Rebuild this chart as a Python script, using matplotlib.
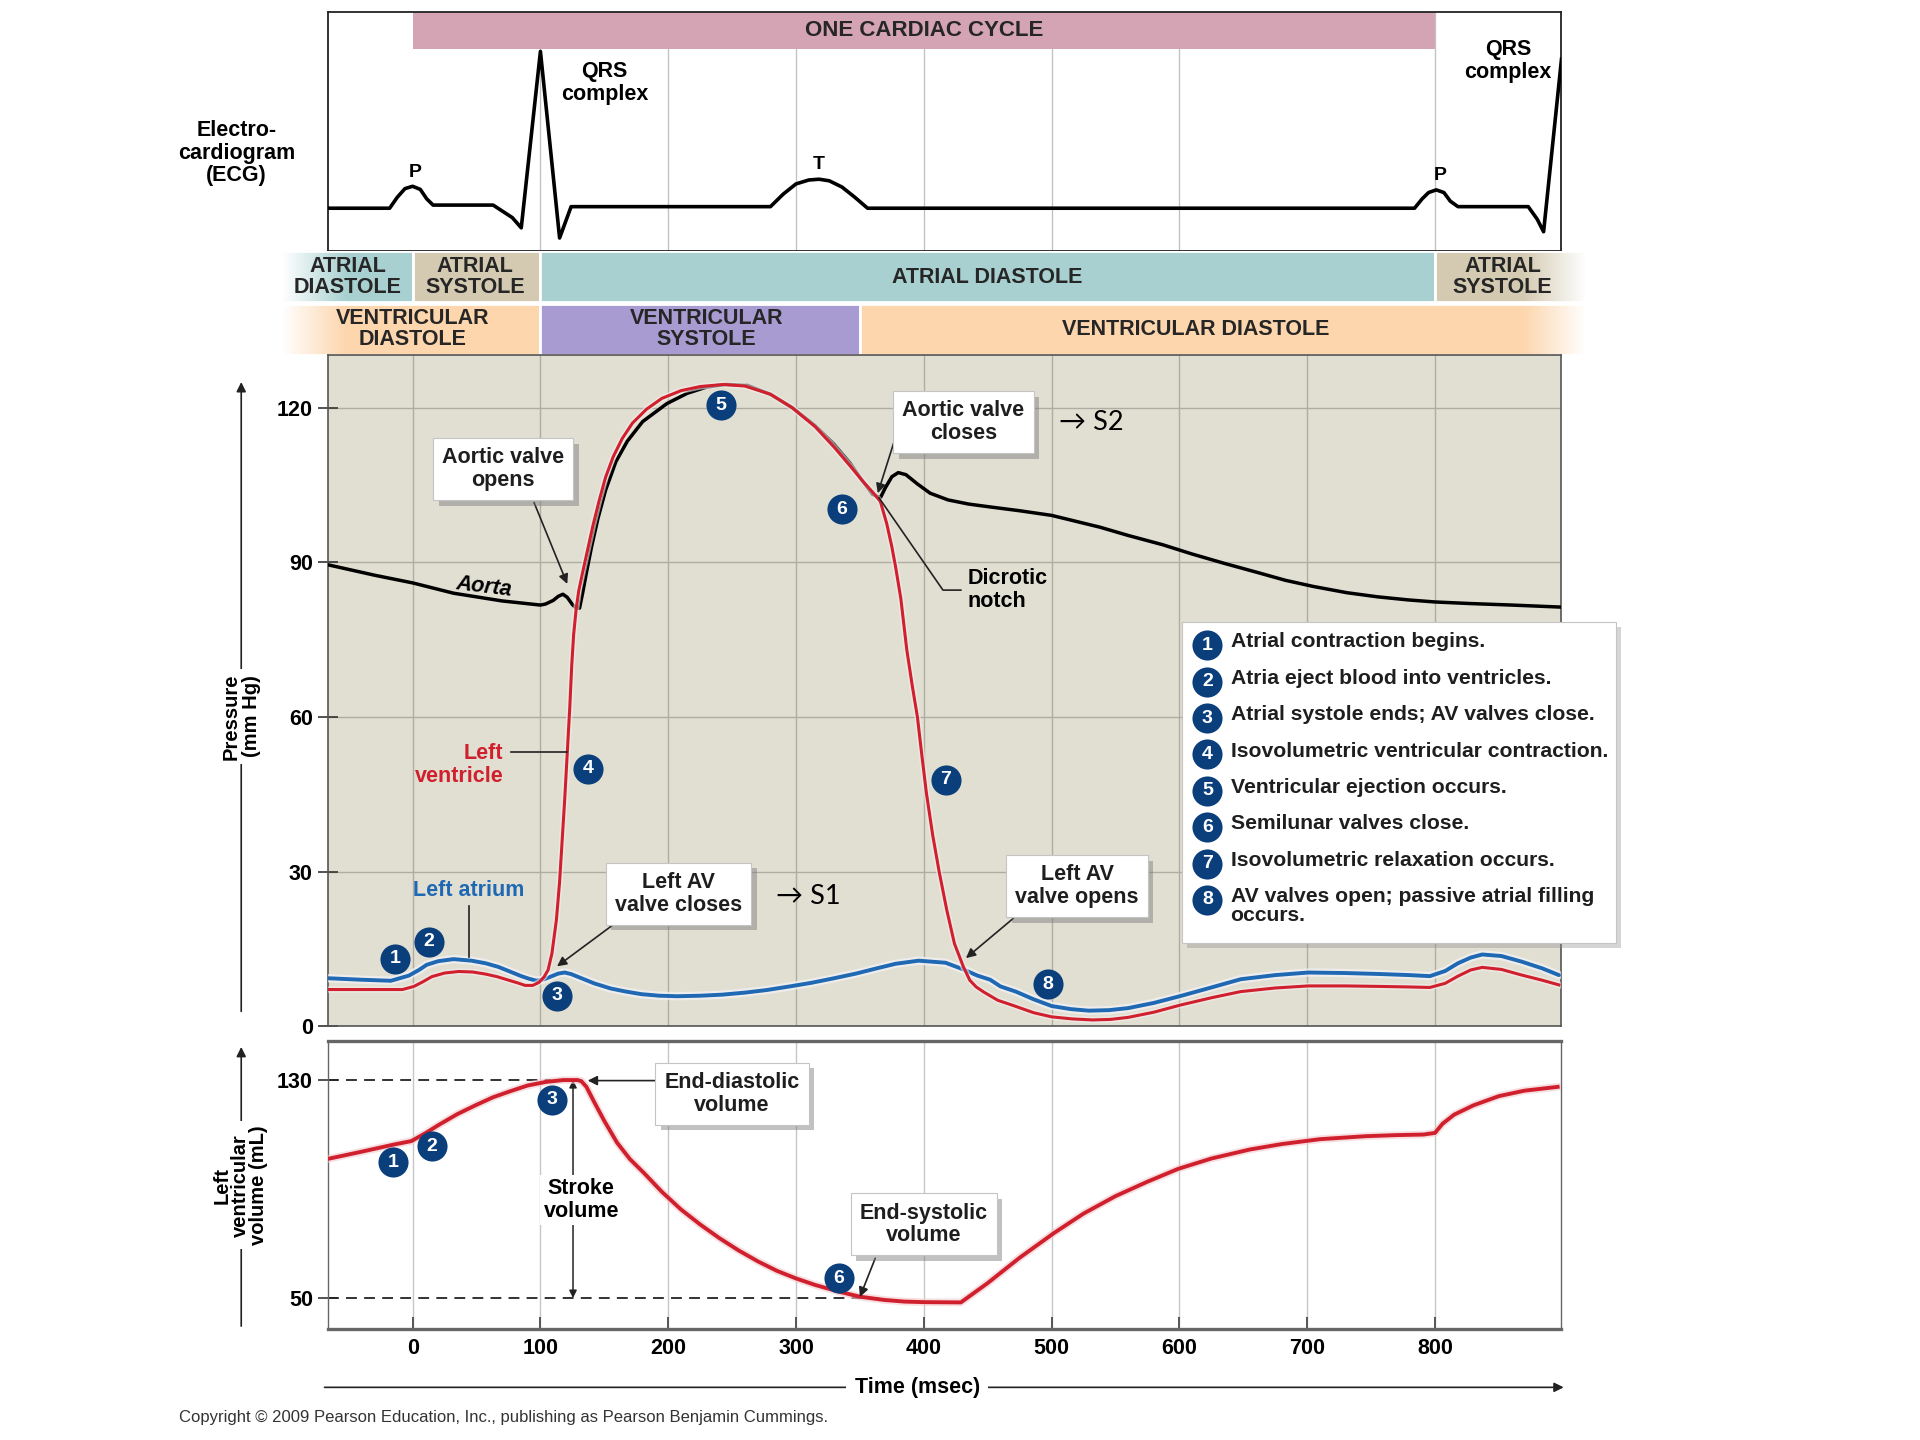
import matplotlib
matplotlib.use("Agg")
import numpy as np
import matplotlib.pyplot as plt
import matplotlib.patheffects as pe
from matplotlib.patches import Rectangle

# ---- values (time in ms) ----
ecg_t = [-66, -18, -12, -6, 0, 6, 11, 16, 63, 78, 85, 100, 115, 124, 280, 290, 300, 310, 318,
         326, 336, 346, 356, 784, 790, 795, 801, 807, 812, 818, 873, 880, 885, 899]
ecg_v = [0, 0, 0.07, 0.125, 0.14, 0.12, 0.06, 0.02, 0.02, -0.06, -0.125, 1.0, -0.19, 0.01, 0.01,
         0.09, 0.155, 0.18, 0.185, 0.175, 0.135, 0.07, 0.0, 0.0, 0.06, 0.1, 0.117, 0.1, 0.045, 0.01,
         0.01, -0.07, -0.15, 0.95]

aorta_t = [-66, -30, 0, 32, 70, 100, 104, 110, 114, 117.6, 121, 125, 128, 130.6, 133, 136, 140,
           145, 151, 159, 168, 180, 199, 215, 230, 245, 262, 280, 297, 315, 330, 342, 352, 360,
           366, 370, 375, 380, 386, 395, 405, 419, 435, 450, 475, 500, 538, 560, 587, 610, 635,
           660, 683, 705, 731, 755, 779, 800, 827, 860, 899]
aorta_p = [89.5, 87.5, 86, 84, 82.5, 81.7, 81.9, 82.6, 83.4, 83.8, 83.2, 81.8, 81.1, 81.1, 84, 88,
           93, 98.5, 104, 109.5, 113.5, 117.3, 120.8, 122.8, 124, 124.5, 124.3, 122.6, 120, 116.5,
           112.8, 109.3, 105.8, 103.2, 102.5, 104.5, 106.6, 107.4, 107, 105.2, 103.4, 102.1,
           101.3, 100.8, 100, 99.1, 96.8, 95.2, 93.4, 91.6, 89.8, 88.1, 86.5, 85.3, 84.1, 83.3,
           82.7, 82.3, 82, 81.7, 81.3]

lv_t = [-66, -30, -8, 1, 8, 15, 25, 36, 47, 57, 66, 74, 82, 88, 94, 99, 103, 106, 109, 112.5,
        115, 117, 119, 121, 123, 124.5, 126, 128, 130, 133, 137, 141, 146, 151, 157, 164, 172,
        183, 195, 210, 225, 243, 260, 280, 297, 315, 330, 342, 352, 360, 366, 371, 375, 378, 382,
        386.7, 391, 395, 398.5, 402, 407, 412, 418, 424, 431, 436, 441, 447, 458, 470, 486, 500,
        516, 532, 546, 560, 580, 601, 625, 648, 675, 701, 730, 758, 780, 796, 808, 818, 828, 837,
        852, 868, 884, 897]
lv_p = [7.1, 7.1, 7.1, 7.7, 8.6, 9.6, 10.3, 10.6, 10.5, 10.1, 9.6, 9.0, 8.4, 7.9, 7.9, 8.5, 9.6,
        10.9, 14.1, 20.6, 28, 36, 44, 53, 62, 70, 76, 81, 84.5, 88, 92.5, 97, 102, 106.5, 110.5,
        114, 117, 119.7, 121.8, 123.3, 124.1, 124.5, 124.2, 122.6, 120, 116.3, 112.3, 108.8,
        105.8, 103.6, 101.8, 97.5, 93, 89, 83, 73, 66, 60, 52.5, 45.3, 37, 30, 22.5, 16, 11.5,
        8.9, 7.6, 6.6, 5.0, 4.0, 2.6, 1.8, 1.4, 1.2, 1.3, 1.7, 2.7, 4.1, 5.5, 6.7, 7.4, 7.8,
        7.8, 7.7, 7.6, 7.5, 8.3, 9.7, 10.9, 11.4, 11.0, 9.9, 8.9, 8.0]

la_t = [-67, -40, -17, -3, 5, 11, 20, 32, 46, 57, 67, 76, 85, 91, 97, 103, 109, 114, 119, 124,
        130, 142, 155, 167, 179, 193, 207, 225, 242, 260, 277, 295, 312, 330, 347, 363, 378, 396,
        417, 431, 442, 452, 460, 472, 486, 500, 515, 529, 545, 560, 580, 601, 625, 648, 675, 701,
        730, 758, 780, 796, 808, 818, 828, 837, 852, 868, 884, 897]
la_p = [9.3, 9.0, 8.8, 9.8, 10.9, 11.9, 12.6, 13.0, 12.7, 12.2, 11.5, 10.6, 9.7, 9.2, 8.8, 9.1,
        9.7, 10.2, 10.4, 10.1, 9.5, 8.3, 7.3, 6.7, 6.2, 5.9, 5.8, 5.9, 6.1, 6.5, 7.0, 7.7, 8.4,
        9.3, 10.2, 11.2, 12.1, 12.7, 12.3, 11.0, 9.8, 9.0, 7.7, 6.7, 5.2, 3.9, 3.3, 3.0, 3.1,
        3.5, 4.5, 5.85, 7.5, 9.1, 9.9, 10.4, 10.3, 10.1, 9.9, 9.7, 10.7, 12.2, 13.3, 13.9, 13.6,
        12.5, 11.2, 9.9]

vol_t = [-66, -42, -14, -1, 10, 21, 35, 49, 63, 77, 90, 104, 118, 129, 132, 136, 142, 150, 160,
         170, 181, 195, 210, 225, 240, 255, 270, 285, 300, 315, 334, 350, 369, 385, 400, 429,
         450, 475, 502, 525, 550, 575, 599, 625, 655, 680, 710, 746, 770, 791, 800, 806, 815,
         830, 850, 870, 896]
vol_v = [101.1, 103.5, 106.4, 107.6, 110.5, 113.7, 117.5, 120.7, 123.7, 126, 128, 129.3, 130,
         130, 129.6, 127.5, 122, 115, 107, 101, 95.9, 89, 82.5, 77, 72, 67.5, 63.5, 60, 57.2,
         54.8, 52.3, 50.5, 49.3, 48.7, 48.5, 48.4, 55.5, 64.8, 73.9, 81, 87.4, 92.7, 97.4, 101.2,
         104.5, 106.5, 108.3, 109.4, 109.8, 110, 110.6, 114, 117.3, 120.7, 124.1, 126.1, 127.5]

edv, esv = 130, 50
time_ticks = [0, 100, 200, 300, 400, 500, 600, 700, 800]
ecg_grid = [100, 200, 300, 400, 500, 600, 800]
pressure_ticks = [0, 30, 60, 90, 120]
volume_ticks = [50, 130]

atrial_names = ["ATRIAL\nDIASTOLE", "ATRIAL\nSYSTOLE", "ATRIAL DIASTOLE", "ATRIAL\nSYSTOLE"]
atrial_edges = [-103, 0, 100, 800, 918]
vent_names = ["VENTRICULAR\nDIASTOLE", "VENTRICULAR\nSYSTOLE", "VENTRICULAR DIASTOLE"]
vent_edges = [-103, 100, 350, 918]

steps = ["Atrial contraction begins.",
         "Atria eject blood into ventricles.",
         "Atrial systole ends; AV valves close.",
         "Isovolumetric ventricular contraction.",
         "Ventricular ejection occurs.",
         "Semilunar valves close.",
         "Isovolumetric relaxation occurs.",
         "AV valves open; passive atrial filling\noccurs."]

# ---- styling ----
NARROW = ["Liberation Sans Narrow", "Liberation Sans", "DejaVu Sans"]
SANS = ["Liberation Sans", "DejaVu Sans"]
NAVY = "#0b3f7c"
RED = "#d0202e"
BLUE = "#1f68b3"
TEAL = "#a9d0d0"
TAN = "#d4cab1"
PEACH = "#fdd6ad"
LAVENDER = "#a89bd1"
PINK = "#d4a3b4"
BEIGE = "#e1ded2"
LABEL = 15.5

W, H = 1568, 1176
TMIN, TMAX = -66.1, 898.8


def place(x0, y0, x1, y1):
    return [x0 / W, 1 - y1 / H, (x1 - x0) / W, (y1 - y0) / H]


def shadow(txt):
    txt.get_bbox_patch().set_path_effects(
        [pe.SimplePatchShadow(offset=(4, -4), shadow_rgbFace="#777777", alpha=0.45), pe.Normal()])


def boxed(ax, x, y, s, size=LABEL):
    t = ax.text(x, y, s, ha="center", va="center", fontsize=size, fontweight="bold",
                family=NARROW, linespacing=1.12, zorder=8, color="#1e1e1e",
                bbox=dict(boxstyle="square,pad=0.42", fc="white", ec="#c4c4c4", lw=0.8))
    shadow(t)
    return t


def badge(ax, x, y, n):
    ax.scatter([x], [y], s=470, color=NAVY, zorder=9, clip_on=False, linewidths=0)
    ax.text(x, y, str(n), color="white", ha="center", va="center", fontsize=14,
            fontweight="bold", family=SANS, zorder=10)


def arrow(ax, xy, xytext, style="-|>"):
    ax.annotate("", xy=xy, xytext=xytext, zorder=7,
                arrowprops=dict(arrowstyle=style, color="#222222", lw=1.2, mutation_scale=14,
                                shrinkA=0, shrinkB=0))


fig = plt.figure(figsize=(19.2, 14.4), dpi=100)

# ---- ECG panel ----
ax_ecg = fig.add_axes(place(268, 10, 1275, 205))
ax_ecg.set_xlim(TMIN, TMAX)
ax_ecg.set_ylim(-0.273, 1.25)
for t in ecg_grid:
    ax_ecg.axvline(t, color="#c2c2c2", lw=1.0, zorder=0)
ax_ecg.add_patch(Rectangle((0, 1.016), 800, 0.24, color=PINK, zorder=2, lw=0))
ax_ecg.text(400, 1.133, "ONE CARDIAC CYCLE", ha="center", va="center", fontsize=16,
            fontweight="bold", family=NARROW, color="#262626", zorder=3)
ax_ecg.plot(ecg_t, ecg_v, color="black", lw=2.6, zorder=3, solid_joinstyle="round")
for s, (x, y) in [("QRS\ncomplex", (150, 0.80)), ("QRS\ncomplex", (857, 0.94))]:
    ax_ecg.text(x, y, s, ha="center", va="center", fontsize=LABEL, fontweight="bold",
                family=NARROW, linespacing=1.1)
for s, (x, y) in [("P", (2, 0.227)), ("T", (318, 0.28)), ("P", (804, 0.21))]:
    ax_ecg.text(x, y, s, ha="center", va="center", fontsize=14, fontweight="bold", family=NARROW)
ax_ecg.set_xticks([])
ax_ecg.set_yticks([])
for sp in ax_ecg.spines.values():
    sp.set_color("#222222")
    sp.set_linewidth(1.3)

# ---- phase bands ----
ax_band = fig.add_axes(place(230, 205, 1295, 290))
atrial_colors = [TEAL, TAN, TEAL, TAN]
for a, b, c in zip(atrial_edges[:-1], atrial_edges[1:], atrial_colors):
    ax_band.add_patch(Rectangle((a, 1.03), b - a, 0.97, fc=c, ec="white", lw=2, zorder=1))
vent_colors = [PEACH, LAVENDER, PEACH]
for a, b, c in zip(vent_edges[:-1], vent_edges[1:], vent_colors):
    ax_band.add_patch(Rectangle((a, 0), b - a, 0.99, fc=c, ec="white", lw=2, zorder=1))
atrial_text_x = [-51, 49, 450, 853]
vent_text_x = [0, 230, 613]
for name, x in zip(atrial_names, atrial_text_x):
    ax_band.text(x, 1.5, name, ha="center", va="center", fontsize=15.5, fontweight="bold",
                 family=NARROW, color="#262626", linespacing=1.0, zorder=3)
for name, x in zip(vent_names, vent_text_x):
    ax_band.text(x, 0.5, name, ha="center", va="center", fontsize=15.5, fontweight="bold",
                 family=NARROW, color="#262626", linespacing=1.0, zorder=3)
# soft fade on both ends of the bands
fade = np.ones((2, 64, 4))
fade[..., 3] = np.linspace(1, 0, 64)[None, :]
ax_band.imshow(fade, extent=(-102.5, -52, 0, 2), aspect="auto", zorder=2, interpolation="bilinear")
ax_band.imshow(fade[:, ::-1], extent=(868, 918.0, 0, 2), aspect="auto", zorder=2,
               interpolation="bilinear")
ax_band.set_xlim(-102.5, 918.0)
ax_band.set_ylim(0, 2)
ax_band.axis("off")

# ---- pressure panel ----
ax_p = fig.add_axes(place(268, 290, 1275, 838))
ax_p.set_facecolor(BEIGE)
ax_p.set_xlim(TMIN, TMAX)
ax_p.set_ylim(0, 130.2)
for t in time_ticks:
    ax_p.axvline(t, color="#aeaca3", lw=1.0, zorder=0)
for p in pressure_ticks[1:]:
    ax_p.axhline(p, color="#aeaca3", lw=1.0, zorder=0)
glow = [pe.Stroke(linewidth=6, foreground="#f4f4f8", alpha=0.7), pe.Normal()]
ax_p.plot(la_t, la_p, color=BLUE, lw=2.8, zorder=3, path_effects=glow,
          solid_joinstyle="round", solid_capstyle="round")
ax_p.plot(aorta_t, aorta_p, color="black", lw=2.5, zorder=3, solid_joinstyle="round")
ax_p.plot(lv_t, lv_p, color=RED, lw=2.2, zorder=4, solid_joinstyle="round",
          path_effects=[pe.Stroke(linewidth=4.5, foreground="#f6eeee", alpha=0.6), pe.Normal()])
ax_p.set_yticks(pressure_ticks)
ax_p.set_yticklabels([str(p) for p in pressure_ticks], fontsize=15.5, fontweight="bold",
                     family=NARROW)
ax_p.set_xticks([])
ax_p.tick_params(axis="y", direction="inout", length=14, width=1.2, pad=4, color="#333333")
for sp in ax_p.spines.values():
    sp.set_color("#555555")
    sp.set_linewidth(1.2)

boxed(ax_p, 71, 108.1, "Aortic valve\nopens")
arrow(ax_p, (121, 85.8), (95, 101.6))
boxed(ax_p, 431, 117.2, "Aortic valve\ncloses")
arrow(ax_p, (364, 103.4), (377, 113.6))
ax_p.plot([365, 415, 429], [102.5, 84.6, 84.6], color="#222222", lw=1.2, zorder=5)
ax_p.text(434, 84.6, "Dicrotic\nnotch", ha="left", va="center", fontsize=LABEL,
          fontweight="bold", family=NARROW, linespacing=1.12)
ax_p.text(56, 85.3, "Aorta", ha="center", va="center", fontsize=LABEL, fontweight="bold",
          family=NARROW, style="italic", rotation=-7)
ax_p.text(71, 50.6, "Left\nventricle", ha="right", va="center", fontsize=LABEL,
          fontweight="bold", family=NARROW, color=RED, linespacing=1.12)
ax_p.plot([77, 121], [53.2, 53.2], color="#222222", lw=1.2, zorder=5)
ax_p.text(44, 26.4, "Left atrium", ha="center", va="center", fontsize=LABEL, fontweight="bold",
          family=NARROW, color=BLUE)
ax_p.plot([44, 44], [23.4, 13.4], color="#222222", lw=1.2, zorder=5)
boxed(ax_p, 208, 25.7, "Left AV\nvalve closes")
arrow(ax_p, (113, 11.6), (156, 19.5))
boxed(ax_p, 520, 27.1, "Left AV\nvalve opens")
arrow(ax_p, (433, 13.2), (470, 20.9))
for s, (x, y) in [("\u2192 S2", (506, 117.2)), ("\u2192 S1", (284, 25.2))]:
    ax_p.text(x, y, s, ha="left", va="center", fontsize=19.5, family=["Lato", "DejaVu Sans"])
for n, (x, y) in zip([1, 2, 3, 4, 5, 6, 7, 8],
                     [(-14, 13.1), (12.5, 16.4), (113, 5.9), (137, 49.9), (241.5, 120.5),
                      (336, 100.3), (417, 47.8), (497, 8.1)]):
    badge(ax_p, x, y, n)

# ---- volume panel ----
ax_v = fig.add_axes(place(268, 850, 1275, 1085))
ax_v.set_xlim(TMIN, TMAX)
ax_v.set_ylim(38.8, 144.4)
for t in time_ticks:
    ax_v.axvline(t, color="#c6c6c6", lw=1.0, zorder=0)
ax_v.plot([TMIN, 108], [edv, edv], color="#222222", lw=1.3, ls=(0, (6, 4)), zorder=2)
ax_v.plot([TMIN, 365], [esv, esv], color="#222222", lw=1.3, ls=(0, (6, 4)), zorder=2)
ax_v.plot(vol_t, vol_v, color=RED, lw=2.8, zorder=3, solid_joinstyle="round",
          path_effects=[pe.Stroke(linewidth=5.5, foreground="#f3c9cc", alpha=0.6), pe.Normal()])
ax_v.set_yticks(volume_ticks)
ax_v.set_yticklabels([str(v) for v in volume_ticks], fontsize=15.5, fontweight="bold",
                     family=NARROW)
ax_v.set_xticks(time_ticks)
ax_v.set_xticklabels([str(t) for t in time_ticks], fontsize=15.5, fontweight="bold",
                     family=NARROW)
ax_v.tick_params(axis="x", direction="in", length=9, width=1.4, pad=7, color="#555555")
ax_v.tick_params(axis="y", direction="inout", length=14, width=1.2, pad=4, color="#333333")
for side, sp in ax_v.spines.items():
    sp.set_color("#666666")
    sp.set_linewidth(2.4 if side in ("top", "bottom") else 1.0)

boxed(ax_v, 250, 125, "End-diastolic\nvolume")
arrow(ax_v, (137, 129.8), (197, 129.8))
ax_v.annotate("", xy=(125.5, 130), xytext=(125.5, 50), zorder=2,
              arrowprops=dict(arrowstyle="<|-|>", color="#222222", lw=1.1, mutation_scale=11,
                              shrinkA=0, shrinkB=0))
ax_v.text(132, 86, "Stroke\nvolume", ha="center", va="center", fontsize=LABEL,
          fontweight="bold", family=NARROW, linespacing=1.12, zorder=4,
          bbox=dict(boxstyle="square,pad=0.15", fc="white", ec="none"))
boxed(ax_v, 400, 77, "End-systolic\nvolume")
arrow(ax_v, (350, 50.4), (362, 64.6))
for n, (x, y) in zip([1, 2, 3, 6], [(-15, 99.9), (15, 105.7), (109, 122.8), (333.5, 57.2)]):
    badge(ax_v, x, y, n)

# ---- overlay for outer labels and the step list ----
lay = fig.add_axes([0, 0, 1, 1])
lay.set_xlim(0, W)
lay.set_ylim(H, 0)
lay.axis("off")
lay.patch.set_alpha(0)

lay.text(193, 125, "Electro-\ncardiogram\n(ECG)", ha="center", va="center", fontsize=LABEL,
         fontweight="bold", family=NARROW, linespacing=1.1)
arrow(lay, (197, 312), (197, 826))
lay.text(197, 585, "Pressure\n(mm Hg)", rotation=90, ha="center", va="center", fontsize=14.5,
         fontweight="bold", family=SANS, linespacing=1.05, zorder=9,
         bbox=dict(boxstyle="square,pad=0.2", fc="white", ec="none"))
arrow(lay, (197, 855), (197, 1083))
lay.text(196, 968, "Left\nventricular\nvolume (mL)", rotation=90, ha="center", va="center",
         fontsize=14.5, fontweight="bold", family=SANS, linespacing=0.95, zorder=9,
         bbox=dict(boxstyle="square,pad=0.2", fc="white", ec="none"))
arrow(lay, (1277, 1133), (265, 1133))
lay.text(749, 1133, "Time (msec)", ha="center", va="center", fontsize=15.5, fontweight="bold",
         family=SANS, zorder=9, bbox=dict(boxstyle="square,pad=0.4", fc="white", ec="none"))
lay.text(146, 1158, "Copyright \u00a9 2009 Pearson Education, Inc., publishing as Pearson "
         "Benjamin Cummings.", ha="left", va="center", fontsize=12, family=SANS, color="#333333")

lay.add_patch(Rectangle((969, 512), 355, 262, fc="#888888", alpha=0.35, lw=0, zorder=1))
lay.add_patch(Rectangle((965, 508), 355, 262, fc="white", ec="#c4c4c4", lw=0.8, zorder=2))
for i, s in enumerate(steps):
    y = 527 + 29.7 * i
    badge(lay, 986, y, i + 1)
    lay.text(1005, y - 10.5, s, ha="left", va="top", fontsize=15.2, fontweight="bold",
             family=SANS, color="#1e1e1e", linespacing=1.0, zorder=10)

fig.savefig("out.png", dpi=100, facecolor="white")
